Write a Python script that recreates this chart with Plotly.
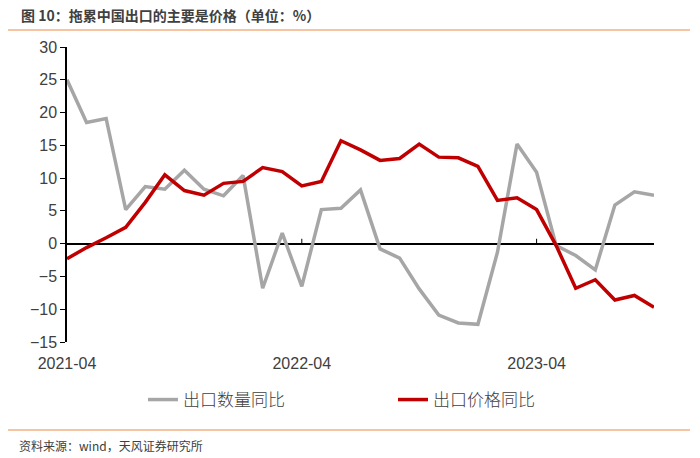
import plotly.graph_objects as go

months = [f"{y}-{m:02d}" for y, m in
          [(2021, m) for m in range(4, 13)] + [(2022, m) for m in range(1, 13)] + [(2023, m) for m in range(1, 11)]]

qty_yoy = [25.0, 18.5, 19.1, 5.2, 8.7, 8.3, 11.2, 8.3, 7.3, 10.4,
           -6.8, 1.6, -6.5, 5.2, 5.4, 8.2, -0.8, -2.2, -6.9, -10.9,
           -12.1, -12.3, -1.3, 15.2, 10.9, -0.3, -1.8, -4.0, 5.9, 7.9, 7.4]
price_yoy = [-2.3, -0.6, 0.9, 2.5, 6.3, 10.5, 8.1, 7.4, 9.2, 9.5,
             11.6, 11.0, 8.8, 9.5, 15.7, 14.3, 12.7, 13.0, 15.2, 13.2,
             13.1, 11.8, 6.6, 7.0, 5.2, -0.3, -6.8, -5.5, -8.6, -7.9, -9.7]

tick_vals = ["2021-04", "2022-04", "2023-04"]
y_ticks = [-15, -10, -5, 0, 5, 10, 15, 20, 25, 30]

W, H = 700, 458
L, R, T, B = 67, 46, 47, 116
PW, PH = W - L - R, H - T - B


def px(x):
    return (x - L) / PW


def py(y):
    return (H - B - y) / PH


fig = go.Figure()
fig.add_trace(go.Scatter(x=months, y=qty_yoy, mode="lines", name="出口数量同比",
                         line=dict(color="#A6A6A6", width=3.5), legend="legend"))
fig.add_trace(go.Scatter(x=months, y=price_yoy, mode="lines", name="出口价格同比",
                         line=dict(color="#C00000", width=3.5), legend="legend2"))

# small upward tick marks on the zero axis line
for tv in tick_vals[1:]:
    fig.add_shape(type="line", xref="x", yref="y", x0=tv, x1=tv, y0=0, y1=0.75,
                  line=dict(color="black", width=1))

# orange separator lines
for yy in (30, 430):
    fig.add_shape(type="line", xref="paper", yref="paper", x0=px(8), x1=px(690),
                  y0=py(yy), y1=py(yy), line=dict(color="#F4B183", width=1.5))

fig.add_annotation(text="<b>图 10：拖累中国出口的主要是价格（单位：%）</b>", xref="paper", yref="paper",
                   x=px(19), y=py(15), xanchor="left", yanchor="middle", showarrow=False,
                   font=dict(family="Noto Sans CJK SC", size=14, color="#404040"))
fig.add_annotation(text="资料来源：wind，天风证券研究所", xref="paper", yref="paper",
                   x=px(17), y=py(445), xanchor="left", yanchor="middle", showarrow=False,
                   font=dict(family="Noto Sans CJK SC", size=12, color="#404040"))

legend_font = dict(family="Noto Sans CJK SC", size=17, color="#404040", weight=300)
fig.update_layout(
    width=W, height=H,
    margin=dict(l=L, r=R, t=T, b=B),
    paper_bgcolor="white", plot_bgcolor="white",
    showlegend=True,
    legend=dict(orientation="h", x=px(143), y=py(400), xanchor="left", yanchor="middle",
                font=legend_font, itemwidth=30),
    legend2=dict(orientation="h", x=px(393), y=py(400), xanchor="left", yanchor="middle",
                 font=legend_font, itemwidth=30),
    xaxis=dict(type="category", range=[0, len(months) - 1], tickmode="array",
               tickvals=tick_vals, ticktext=tick_vals, showgrid=False, showline=False,
               zeroline=False, ticks="", ticklabelstandoff=10,
               tickfont=dict(family="Liberation Sans", size=16, color="#404040")),
    yaxis=dict(range=[-15, 30], tickmode="array", tickvals=y_ticks, showgrid=False,
               showline=True, linecolor="black", linewidth=1.5, ticks="outside",
               ticklen=5, tickcolor="black", zeroline=True, zerolinecolor="black",
               zerolinewidth=1.5,
               tickfont=dict(family="Liberation Sans", size=16, color="#404040")),
)

fig.write_html("out.html", config={"displayModeBar": False},
               post_script="document.body.style.margin='0px';document.body.style.overflow='hidden';")
